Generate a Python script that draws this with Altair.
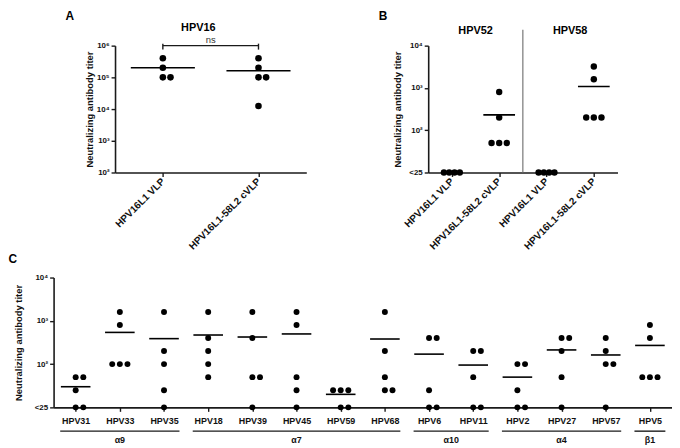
import json
import altair as alt
import pandas as pd

LT = "<25"

# ---------------- data ----------------
A_TITLE = "HPV16"
A_GROUPS = ["HPV16L1 VLP", "HPV16L1-58L2 cVLP"]
A_VALUES = [
    [400000, 200000, 100000, 100000],
    [400000, 200000, 100000, 100000, 12500],
]
A_TICKS = [100, 1000, 10000, 100000, 1000000]
A_STAT = "ns"

B_TYPES = ["HPV52", "HPV58"]
B_GROUPS = ["HPV16L1 VLP", "HPV16L1-58L2 cVLP", "HPV16L1 VLP", "HPV16L1-58L2 cVLP"]
B_VALUES = [
    [LT, LT, LT, LT],
    [800, 200, 50, 50, 50],
    [LT, LT, LT, LT],
    [3200, 1600, 200, 200, 200],
]

C_TYPES = ["HPV31", "HPV33", "HPV35", "HPV18", "HPV39", "HPV45", "HPV59",
           "HPV68", "HPV6", "HPV11", "HPV2", "HPV27", "HPV57", "HPV5"]
C_VALUES = [
    [50, 50, 25, LT, LT],
    [1600, 800, 100, 100, 100],
    [1600, 200, 100, 25, LT],
    [1600, 400, 200, 100, 50],
    [1600, 400, 50, 50, LT],
    [1600, 800, 50, 25, LT],
    [25, 25, 25, LT, LT],
    [1600, 200, 50, 25, 25],
    [400, 400, 25, LT, LT],
    [200, 200, 50, LT, LT],
    [100, 100, 25, LT, LT],
    [400, 400, 200, 50, LT],
    [400, 200, 100, 100, LT],
    [800, 400, 50, 50, 50],
]
C_CLADES = ["α9", "α7", "α10", "α4", "β1"]
C_CLADE_MEMBERS = [
    ["HPV31", "HPV33", "HPV35"],
    ["HPV18", "HPV39", "HPV45", "HPV59", "HPV68"],
    ["HPV6", "HPV11"],
    ["HPV2", "HPV27", "HPV57"],
    ["HPV5"],
]
BC_TICKS = [10, 100, 1000, 10000]
Y_TITLE = "Neutralizing antibody titer"
LETTERS = ["A", "B", "C"]

# ---------------- style ----------------
FONT = "Liberation Sans"
INK = "#1a1a1a"
FLOOR = 10        # "<25" drawn on the axis bottom
LT_MEAN = 12.5    # value counted for "<25" in the mean


def to_plot(v):
    return FLOOR if v == LT else v


def to_calc(v):
    return LT_MEAN if v == LT else v


def point_frame(values, band_px):
    rows = []
    for i, vals in enumerate(values):
        pv = [to_plot(v) for v in vals]
        seen = {}
        for v in pv:
            n = pv.count(v)
            k = seen.get(v, 0)
            seen[v] = k + 1
            gap = min(7.7, 16.0 / (n - 1)) if n > 1 else 0.0
            slot = k if n == 2 else (k - (n - 1) / 2)
            rows.append({"xp": i + slot * gap / band_px, "y": v})
    return pd.DataFrame(rows)


def mean_frame(values):
    rows = []
    for i, vals in enumerate(values):
        if all(v == LT for v in vals):
            continue
        m = sum(to_calc(v) for v in vals) / len(vals)
        rows.append({"xl": i - 0.335, "xr": i + 0.335, "y": m})
    return pd.DataFrame(rows)


SUP = "['\u2070','\u00b9','\u00b2','\u00b3','\u2074','\u2075','\u2076']"
Y_LABELS = "datum.value < 20 ? '<25' : '10' + " + SUP + "[round(log(datum.value) / LN10)]"


def y_enc(ticks, domain, title_x, h):
    return alt.Y(
        "y:Q",
        scale=alt.Scale(type="log", domain=domain, nice=False),
        axis=alt.Axis(
            values=ticks, labelExpr=Y_LABELS, title=Y_TITLE,
            titleX=title_x, titleY=h / 2, titleAngle=270, titleAlign="center",
            titleBaseline="middle", titleFont=FONT, titleFontSize=9.5,
            titleFontWeight="bold", titleColor="#111",
            labelFont=FONT, labelFontSize=8, labelFontWeight="bold",
            labelColor="#111", labelPadding=2, labelFlush=False,
            labelOverlap=False, tickSize=4, tickWidth=1.4, tickColor=INK,
            domainColor=INK, domainWidth=1.6, grid=False,
        ),
    )


def x_enc_factory(labels, angle, font_size, pad):
    n = len(labels)
    expr = json.dumps(labels, ensure_ascii=False) + "[datum.value]"
    if angle == 0:
        align, base = "center", "top"
    else:
        align, base = "right", "middle"

    def make(field):
        return alt.X(
            field + ":Q",
            scale=alt.Scale(domain=[-0.5, n - 0.5], nice=False, zero=False),
            axis=alt.Axis(
                values=list(range(n)), labelExpr=expr, title=None,
                labelAngle=angle, labelAlign=align, labelBaseline=base,
                labelFont=FONT, labelFontSize=font_size, labelFontWeight="bold",
                labelColor="#111", labelPadding=pad, labelFlush=False,
                labelOverlap=False, tickSize=4, tickWidth=1.4, tickColor=INK,
                domainColor=INK, domainWidth=1.6, grid=False,
            ),
        )
    return make


def letter(t, x, y):
    return alt.Chart(pd.DataFrame({"t": [t]})).mark_text(
        font=FONT, fontSize=12, fontWeight="bold", align="left", baseline="top", color="black"
    ).encode(x=alt.value(x), y=alt.value(y), text="t:N")


def dots(values, band, xe, ye, size):
    return alt.Chart(point_frame(values, band)).mark_circle(
        size=size, color="black", opacity=1
    ).encode(x=xe("xp"), y=ye)


def means(values, xe, ye):
    return alt.Chart(mean_frame(values)).mark_rule(
        color="black", strokeWidth=1.6
    ).encode(x=xe("xl"), x2=alt.X2("xr"), y=ye)


# ---------------- panel A ----------------
AW, AH = 193, 128
ax = x_enc_factory(A_GROUPS, 315, 10, 3)
ay = y_enc(A_TICKS, [100, 1000000], -26, AH)

a_bracket = alt.Chart(pd.DataFrame({"x0": [0], "x1": [len(A_GROUPS) - 1]})).mark_rule(
    color=INK, strokeWidth=1.4).encode(x=ax("x0"), x2=alt.X2("x1"), y=alt.value(0))
a_caps = alt.Chart(pd.DataFrame({"xp": [0, len(A_GROUPS) - 1]})).mark_rule(
    color=INK, strokeWidth=1.4).encode(x=ax("xp"), y=alt.value(-2), y2=alt.value(4))
a_ns = alt.Chart(pd.DataFrame({"xp": [(len(A_GROUPS) - 1) / 2], "t": [A_STAT]})).mark_text(
    font=FONT, fontSize=9.5, color="#333", baseline="bottom").encode(
    x=ax("xp"), y=alt.value(-1), text="t:N")
a_title = alt.Chart(pd.DataFrame({"t": [A_TITLE]})).mark_text(
    font=FONT, fontSize=11, fontWeight="bold", baseline="middle", color="black").encode(
    x=alt.value(84), y=alt.value(-18), text="t:N")

panelA = alt.layer(
    means(A_VALUES, ax, ay), dots(A_VALUES, 96.5, ax, ay, 44),
    a_bracket, a_caps, a_ns, a_title, letter(LETTERS[0], -50, -35),
).properties(width=AW, height=AH)

# ---------------- panel B ----------------
BW, BH = 191, 128
bx = x_enc_factory(B_GROUPS, 315, 10, 3)
by = y_enc(BC_TICKS, [10, 10000], -31, BH)
per = len(B_GROUPS) // len(B_TYPES)

b_div = alt.Chart(pd.DataFrame({"xp": [per * k - 0.5 for k in range(1, len(B_TYPES))]})).mark_rule(
    color="#777", strokeWidth=1.2).encode(x=bx("xp"), y=alt.value(-16), y2=alt.value(BH))
b_titles = alt.Chart(pd.DataFrame({"xp": [per * k + (per - 1) / 2 for k in range(len(B_TYPES))],
                                   "t": B_TYPES})).mark_text(
    font=FONT, fontSize=11, fontWeight="bold", baseline="middle", color="black").encode(
    x=bx("xp"), y=alt.value(-15), text="t:N")

panelB = alt.layer(
    b_div, means(B_VALUES, bx, by), dots(B_VALUES, 47.75, bx, by, 42),
    b_titles, letter(LETTERS[1], -50, -35),
).properties(width=BW, height=BH)

# ---------------- panel C ----------------
CW, CH = 624, 131
cx = x_enc_factory(C_TYPES, 0, 9, 5)
cy = y_enc(BC_TICKS, [10, 10000], -35.5, CH)

clade_rows = []
for name, members in zip(C_CLADES, C_CLADE_MEMBERS):
    idx = [C_TYPES.index(m) for m in members]
    clade_rows.append({"xs": min(idx) - 0.35, "xe": max(idx) + 0.35,
                       "xp": (min(idx) + max(idx)) / 2, "g": name})
clade_df = pd.DataFrame(clade_rows)

c_lines = alt.Chart(clade_df).mark_rule(color=INK, strokeWidth=1.4).encode(
    x=cx("xs"), x2=alt.X2("xe"), y=alt.value(CH + 24))
c_names = alt.Chart(clade_df).mark_text(
    font=FONT, fontSize=9, fontWeight="bold", baseline="middle", color="#111").encode(
    x=cx("xp"), y=alt.value(CH + 33), text="g:N")

panelC = alt.layer(
    means(C_VALUES, cx, cy), dots(C_VALUES, 44.57, cx, cy, 36),
    c_lines, c_names, letter(LETTERS[2], -45.5, -24),
).properties(width=CW, height=CH)


def spacer(w):
    return alt.Chart(pd.DataFrame({"v": [0]})).mark_point(opacity=0).encode(
        x=alt.value(0), y=alt.value(0)).properties(width=w, height=AH)


top = alt.hconcat(spacer(61.5), panelA, spacer(123), panelB, spacing=0, bounds="flush")

chart = alt.vconcat(top, panelC, spacing=234, bounds="flush").properties(
    padding=0
).configure(font=FONT).configure_view(strokeWidth=0)

chart.save("out.html", embed_options={"renderer": "svg", "actions": False})
